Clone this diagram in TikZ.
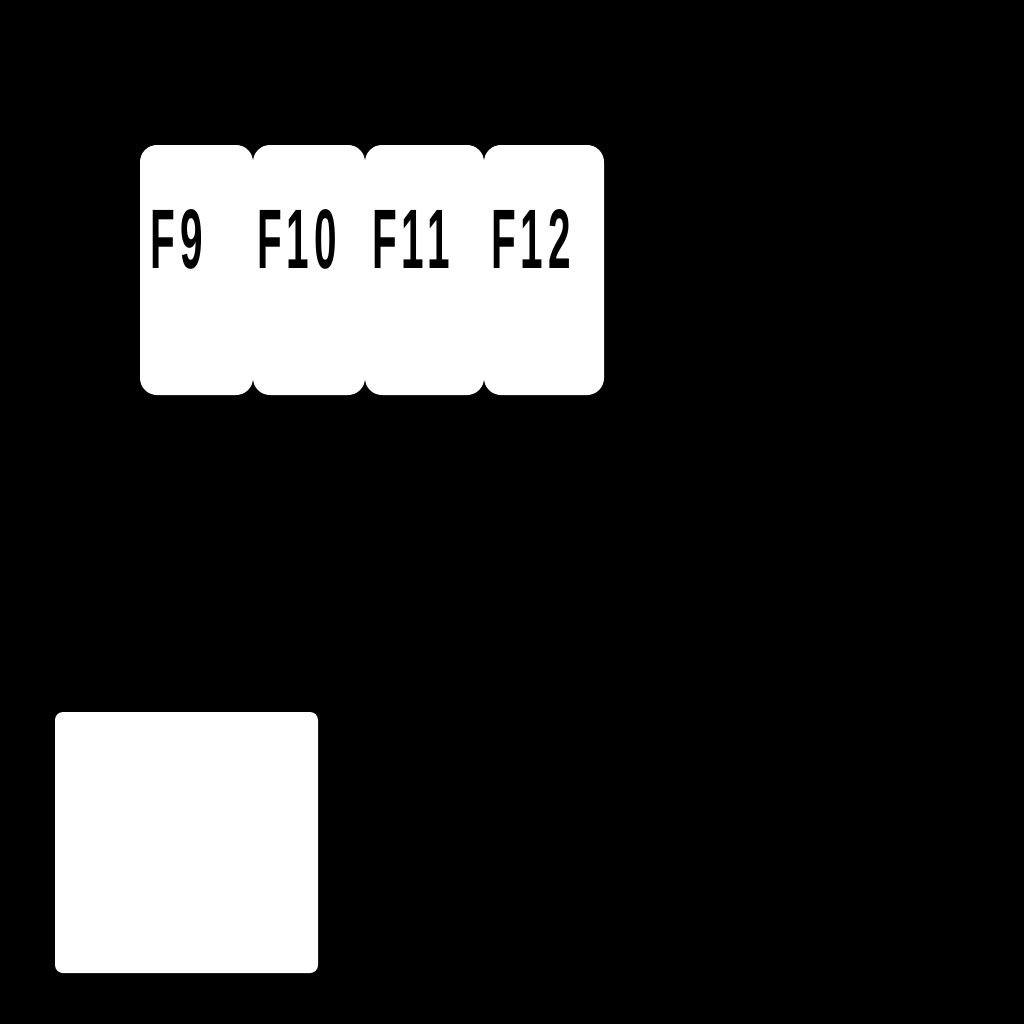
\documentclass[tikz,border=0pt]{standalone}
\usepackage{fontspec}
\setmainfont{Liberation Sans}
\newfontfamily\keyfont[LetterSpace=12]{Liberation Sans}
\begin{document}
\begin{tikzpicture}[x=0.01cm,y=-0.01cm,
  key/.style={fill=white,draw=none,rounded corners=17*0.01cm,minimum height=250*0.01cm,inner sep=0pt},
  keylabel/.style={anchor=base,font=\keyfont\bfseries\fontsize{24}{24}\selectfont,xscale=0.48,inner sep=0pt},
  pad/.style={fill=white,draw=none,rounded corners=8*0.01cm,inner sep=0pt}]
\fill[black] (0,0) rectangle (1024,1024);
\useasboundingbox (0,0) rectangle (1024,1024);
\node[key,minimum width=113*0.01cm] (k9)  at (196.5,270) {};
\node[key,minimum width=112*0.01cm] (k10) at (309,270) {};
\node[key,minimum width=119*0.01cm] (k11) at (424.5,270) {};
\node[key,minimum width=120*0.01cm] (k12) at (544,270) {};
\node[keylabel] (t9)  at (177,268) {F9};
\node[keylabel] (t10) at (297,268) {F10};
\node[keylabel] (t11) at (411,268) {F11};
\node[keylabel] (t12) at (531,268) {F12};
\node[pad,minimum width=263*0.01cm,minimum height=261*0.01cm] (pad) at (186.5,842.5) {};
\end{tikzpicture}
\end{document}
